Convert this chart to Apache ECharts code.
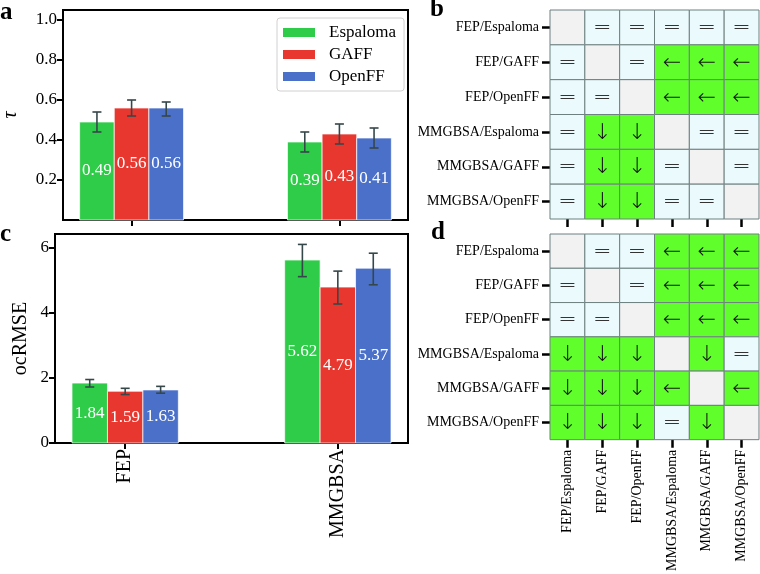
<!DOCTYPE html>
<html lang="en">
<head>
<meta charset="UTF-8">
<script src="https://cdn.jsdelivr.net/npm/echarts@6/dist/echarts.min.js"></script>
<style>
  html, body { margin: 0; padding: 0; background: #fff; }
  #chart { width: 760px; height: 574px; }
</style>
</head>
<body>
<div id="chart"></div>
<script>
// methods on the x axis of panels a/c
var methods = ['FEP', 'MMGBSA'];
var forceFields = ['Espaloma', 'GAFF', 'OpenFF'];
var ffColors = ['#2ecc48', '#e8372f', '#4a70c9'];

// panel a: Kendall tau, per force field [FEP, MMGBSA]
var tauEspaloma = [0.49, 0.39];
var tauGAFF = [0.56, 0.43];
var tauOpenFF = [0.56, 0.41];
var tauLowEspaloma = [0.44, 0.34];
var tauHighEspaloma = [0.54, 0.44];
var tauLowGAFF = [0.52, 0.38];
var tauHighGAFF = [0.60, 0.48];
var tauLowOpenFF = [0.52, 0.36];
var tauHighOpenFF = [0.59, 0.46];

// panel c: ocRMSE
var rmseEspaloma = [1.84, 5.62];
var rmseGAFF = [1.59, 4.79];
var rmseOpenFF = [1.63, 5.37];
var rmseLowEspaloma = [1.72, 5.11];
var rmseHighEspaloma = [1.95, 6.10];
var rmseLowGAFF = [1.49, 4.27];
var rmseHighGAFF = [1.68, 5.28];
var rmseLowOpenFF = [1.53, 4.86];
var rmseHighOpenFF = [1.74, 5.83];

var tauTicks = [0.2, 0.4, 0.6, 0.8, 1.0];
var rmseTicks = [0, 2, 4, 6];

// panels b/d: pairwise comparison matrices
var pairLabels = ['FEP/Espaloma', 'FEP/GAFF', 'FEP/OpenFF',
    'MMGBSA/Espaloma', 'MMGBSA/GAFF', 'MMGBSA/OpenFF'];
var matrixB = [
    ['', '=', '=', '=', '=', '='],
    ['=', '', '=', '←', '←', '←'],
    ['=', '=', '', '←', '←', '←'],
    ['=', '↓', '↓', '', '=', '='],
    ['=', '↓', '↓', '=', '', '='],
    ['=', '↓', '↓', '=', '=', '']
];
var matrixD = [
    ['', '=', '=', '←', '←', '←'],
    ['=', '', '=', '←', '←', '←'],
    ['=', '=', '', '←', '←', '←'],
    ['↓', '↓', '↓', '', '↓', '='],
    ['↓', '↓', '↓', '←', '', '←'],
    ['↓', '↓', '↓', '=', '↓', '']
];

var serif = 'Liberation Serif';
var barW = 1 / 6;

function barData(vals, lows, highs) {
    return vals.map(function (v, i) { return [i, v, lows[i], highs[i]]; });
}

function renderBar(offset, color) {
    return function (params, api) {
        var x = api.value(0) + offset;
        var v = api.value(1);
        var lo = api.value(2), hi = api.value(3);
        var p0 = api.coord([x - barW / 2, 0]);
        var p1 = api.coord([x + barW / 2, v]);
        var pc = api.coord([x, v / 2]);
        var pl = api.coord([x, lo]);
        var ph = api.coord([x, hi]);
        var cap = 4.5;
        var err = { stroke: '#36474a', lineWidth: 1.6 };
        return {
            type: 'group',
            children: [
                { type: 'rect', shape: { x: p0[0], y: p1[1], width: p1[0] - p0[0], height: p0[1] - p1[1] },
                  style: { fill: color, stroke: 'rgba(255,255,255,0.7)', lineWidth: 1 } },
                { type: 'text', x: pc[0], y: pc[1],
                  style: { text: v.toFixed(2), fill: '#fff', font: '17px "' + serif + '"', align: 'center', verticalAlign: 'middle' } },
                { type: 'line', shape: { x1: pl[0], y1: pl[1], x2: ph[0], y2: ph[1] }, style: err },
                { type: 'line', shape: { x1: pl[0] - cap, y1: pl[1], x2: pl[0] + cap, y2: pl[1] }, style: err },
                { type: 'line', shape: { x1: ph[0] - cap, y1: ph[1], x2: ph[0] + cap, y2: ph[1] }, style: err }
            ]
        };
    };
}

function renderCell(matrix) {
    return function (params, api) {
        var col = api.value(0), row = api.value(1);
        var sym = matrix[row][col];
        var c = api.coord([col, row]);
        var s = api.size([1, 1]);
        var fill = sym === '' ? '#f2f2f2' : (sym === '=' ? '#ebfbfd' : '#60ff2c');
        return {
            type: 'group',
            children: [
                { type: 'rect', shape: { x: c[0] - s[0] / 2, y: c[1] - s[1] / 2, width: s[0], height: s[1] },
                  style: { fill: fill, stroke: '#6f8080', lineWidth: 1 } },
                { type: 'text', x: c[0], y: c[1] + 1,
                  style: { text: sym, fill: sym === '=' ? '#333' : '#111', font: '200 22px "DejaVu Sans"', align: 'center', verticalAlign: 'middle' } }
            ]
        };
    };
}

function cellData(matrix) {
    var out = [];
    matrix.forEach(function (r, i) {
        r.forEach(function (sym, j) { out.push([j, i]); });
    });
    return out;
}

var chart = echarts.init(document.getElementById('chart'));

var xBarAxis = function (gi, showLabels) {
    return {
        type: 'value', gridIndex: gi, min: -0.33, max: 1.33, position: 'bottom',
        axisLine: { show: false, onZero: false },
        splitLine: { show: false },
        axisTick: { show: true, customValues: [0, 1], length: 6, lineStyle: { color: '#000', width: 2 } },
        axisLabel: {
            show: showLabels, customValues: [0, 1], rotate: 90, margin: 6,
            color: '#000', fontFamily: serif, fontSize: 20,
            formatter: function (v) { return methods[Math.round(v)]; }
        }
    };
};

var catAxisX = function (gi, showLabels) {
    return {
        type: 'category', gridIndex: gi, data: pairLabels, position: 'bottom',
        axisLine: { show: false, onZero: false },
        axisTick: { show: true, alignWithLabel: true, length: 8, lineStyle: { color: '#000', width: 2.5 } },
        axisLabel: { show: showLabels, rotate: 90, margin: 10, color: '#000', fontFamily: serif, fontSize: 14 },
        splitLine: { show: false }
    };
};

var catAxisY = function (gi) {
    return {
        type: 'category', gridIndex: gi, data: pairLabels, inverse: true, position: 'left',
        axisLine: { show: false, onZero: false },
        axisTick: { show: true, alignWithLabel: true, length: 8, lineStyle: { color: '#000', width: 2.5 } },
        axisLabel: { margin: 11, color: '#000', fontFamily: serif, fontSize: 14 },
        splitLine: { show: false }
    };
};

var tauSets = [[tauEspaloma, tauLowEspaloma, tauHighEspaloma],
    [tauGAFF, tauLowGAFF, tauHighGAFF], [tauOpenFF, tauLowOpenFF, tauHighOpenFF]];
var rmseSets = [[rmseEspaloma, rmseLowEspaloma, rmseHighEspaloma],
    [rmseGAFF, rmseLowGAFF, rmseHighGAFF], [rmseOpenFF, rmseLowOpenFF, rmseHighOpenFF]];

var series = [];
[tauSets, rmseSets].forEach(function (sets, panel) {
    sets.forEach(function (set, k) {
        series.push({
            type: 'custom', name: forceFields[k],
            xAxisIndex: panel, yAxisIndex: panel,
            itemStyle: { color: ffColors[k] },
            renderItem: renderBar((k - 1) * barW, ffColors[k]),
            data: barData(set[0], set[1], set[2]),
            encode: { x: 0, y: [1, 2, 3] },
            z: 2
        });
    });
});
series.push({
    type: 'custom', xAxisIndex: 2, yAxisIndex: 2,
    renderItem: renderCell(matrixB), data: cellData(matrixB), encode: { x: 0, y: 1 }
});
series.push({
    type: 'custom', xAxisIndex: 3, yAxisIndex: 3,
    renderItem: renderCell(matrixD), data: cellData(matrixD), encode: { x: 0, y: 1 }
});

var panelTitle = function (t, left, top) {
    return { text: t, left: left, top: top, padding: 0,
        textStyle: { fontFamily: serif, fontWeight: 'bold', fontSize: 25, color: '#000' } };
};

var option = {
    animation: false,
    backgroundColor: '#fff',
    title: [panelTitle('a', 0, 0), panelTitle('b', 430, -3), panelTitle('c', 0, 222), panelTitle('d', 431, 220)],
    legend: {
        orient: 'vertical', left: 277, top: 18,
        data: forceFields, icon: 'rect', itemWidth: 32, itemHeight: 9, itemGap: 5,
        padding: [6, 8, 6, 6],
        backgroundColor: '#fff', borderColor: '#d0d0d0', borderWidth: 1, borderRadius: 3,
        textStyle: { fontFamily: serif, fontSize: 17, color: '#000', padding: [0, 0, 0, 9] }
    },
    grid: [
        { left: 55, top: 10, width: 353, height: 210, show: true, borderColor: '#000', borderWidth: 2 },
        { left: 55, top: 234, width: 353, height: 209, show: true, borderColor: '#000', borderWidth: 2 },
        { left: 550, top: 10, width: 209, height: 209 },
        { left: 550, top: 234, width: 209, height: 209 }
    ],
    xAxis: [xBarAxis(0, false), xBarAxis(1, true), catAxisX(2, false), catAxisX(3, true)],
    yAxis: [
        {
            type: 'value', gridIndex: 0, min: 0, max: 1.05, position: 'left',
            name: 'τ', nameLocation: 'middle', nameGap: 42,
            nameTextStyle: { fontFamily: serif, fontSize: 20, fontStyle: 'italic', color: '#000' },
            axisLine: { show: false, onZero: false }, splitLine: { show: false },
            axisTick: { show: true, customValues: tauTicks, length: 6, lineStyle: { color: '#000', width: 2 } },
            axisLabel: { customValues: tauTicks, margin: 6, color: '#000', fontFamily: serif, fontSize: 17,
                formatter: function (v) { return v.toFixed(1); } }
        },
        {
            type: 'value', gridIndex: 1, min: 0, max: 6.42, position: 'left',
            name: 'ocRMSE', nameLocation: 'middle', nameGap: 24,
            nameTextStyle: { fontFamily: serif, fontSize: 20, color: '#000' },
            axisLine: { show: false, onZero: false }, splitLine: { show: false },
            axisTick: { show: true, customValues: rmseTicks, length: 6, lineStyle: { color: '#000', width: 2 } },
            axisLabel: { customValues: rmseTicks, margin: 6, color: '#000', fontFamily: serif, fontSize: 17 }
        },
        catAxisY(2),
        catAxisY(3)
    ],
    series: series
};

chart.setOption(option);
</script>
</body>
</html>
